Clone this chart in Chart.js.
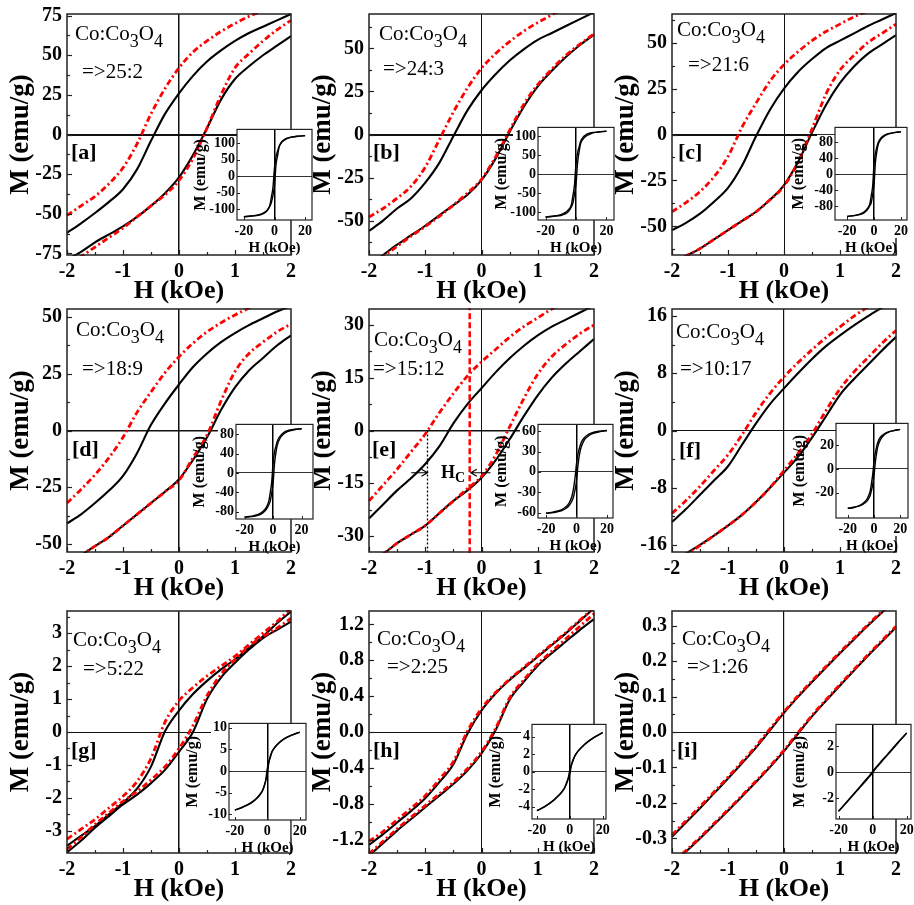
<!DOCTYPE html>
<html>
<head>
<meta charset="utf-8">
<title>Co:Co3O4 hysteresis loops</title>
<script src="https://cdn.jsdelivr.net/npm/chart.js@4.4.1/dist/chart.umd.min.js"></script>
<style>
  html, body { margin: 0; padding: 0; background: #fff; }
  #figure { position: relative; width: 914px; height: 905px; overflow: hidden; background: #fff; }
  #figure canvas { position: absolute; }
</style>
</head>
<body>
<div id="figure"></div>
<script>
// Applied field grids (kOe): low-field window and full sweep
const FIELD = [-2, -1.75, -1.5, -1.25, -1, -0.75, -0.5, -0.25, 0, 0.25, 0.5, 0.75, 1, 1.25, 1.5, 1.75, 2];
const FIELD_WIDE = [-20, -15, -10, -7, -5, -3, -2, -1, 0, 1, 2, 3, 5, 7, 10, 15, 20];
const X_TICKS = [-2, -1, 0, 1, 2];
const X_TICKS_WIDE = [-20, 0, 20];

// [a] 25:2
const a_blackDesc = [-62, -56, -49.5, -42.5, -34.5, -22, -4, 13, 26, 37, 46, 53, 59, 64, 68, 72, 76];
const a_blackAsc  = [-79, -74, -68, -63, -58, -52, -45, -37, -27, -13, 4, 22, 35, 43, 50, 56, 62];
const a_redDesc   = [-51, -45, -39, -31, -21, -6, 13, 29, 42, 52, 59, 65, 70, 74.5, 78, 81.5, 85];
const a_redAsc    = [-82, -77, -71, -65, -59, -52, -45, -38, -29, -15, 4, 25, 42, 51, 59, 66, 72];
const a_yTicks    = [-75, -50, -25, 0, 25, 50, 75];
const a_wideDesc  = [-123, -121, -117, -111, -104, -88, -62, -34, 26, 59, 76, 91, 106, 113, 118, 121, 123];
const a_wideAsc   = [-123, -121, -118, -113, -106, -91, -79, -58, -28, 35, 62, 88, 104, 111, 117, 121, 123];
const a_wideTicks = [-100, -50, 0, 50, 100];

// [b] 24:3
const b_blackDesc = [-56, -50, -43, -37, -28, -16.5, -1, 14, 25.7, 35, 43, 49.5, 55, 59, 63, 67, 71];
const b_blackAsc  = [-76, -70, -64, -58.5, -53, -47, -41, -35, -26.5, -14, 1.5, 16, 28, 37, 45, 52, 58];
const b_redDesc   = [-48, -43, -37, -30, -19, -3, 13, 27, 38.5, 47, 54, 60, 65, 69.5, 74, 77.5, 81];
const b_redAsc    = [-77, -71, -65, -59, -53.5, -47.5, -41, -34, -26, -13, 2.5, 17.5, 29, 38, 46, 52.5, 58.5];
const b_yTicks    = [-50, -25, 0, 25, 50];
const b_wideDesc  = [-113, -111, -107, -101, -94, -80, -56, -28, 26, 55, 71, 86, 99, 105, 109, 111, 113];
const b_wideAsc   = [-113, -111, -109, -105, -99, -86, -76, -53, -26.5, 28, 58, 80, 94, 101, 107, 111, 113];
const b_wideTicks = [-100, -50, 0, 50, 100];

// [c] 21:6
const c_blackDesc = [-52, -48, -43, -36.5, -29, -17, -1, 13.5, 25, 34, 41, 47, 51, 55, 59, 62.5, 66];
const c_blackAsc  = [-70, -66, -62, -57, -52, -47, -42, -35.5, -27.5, -15, 1, 16, 28, 37, 44, 49, 54];
const c_redDesc   = [-42, -37, -31, -23, -12, 4, 17, 29, 38, 45, 51, 56, 60, 64, 67, 70, 73];
const c_redAsc    = [-70, -66, -62, -57, -52, -47, -42, -35.5, -28, -15, 3, 22, 35, 43, 50, 55, 60];
const c_yTicks    = [-50, -25, 0, 25, 50];
const c_wideDesc  = [-105, -103, -99, -93, -86, -72, -52, -29, 25, 51, 66, 78, 89, 95, 100, 103, 105];
const c_wideAsc   = [-105, -103, -100, -95, -89, -78, -70, -51, -27.5, 28, 54, 72, 86, 93, 99, 103, 105];
const c_wideTicks = [-80, -40, 0, 40, 80];

// [d] 18:9
const d_blackDesc = [-41, -37, -32, -26.5, -20, -10, 2.5, 12, 20.3, 28, 34, 39, 43, 46.5, 49.5, 52.5, 55];
const d_blackAsc  = [-58, -55, -51, -47, -42, -37, -32, -27, -21.5, -13, -3, 9, 19, 26.5, 32, 37.5, 42];
const d_redDesc   = [-32, -26, -19.5, -12, -3, 8, 17, 25.5, 32.5, 38.5, 43.5, 47.5, 51, 54, 57, 59.5, 62];
const d_redAsc    = [-58, -55, -51, -47, -42, -37, -32, -27, -22, -12, -2, 13, 26, 34, 39, 43.5, 47];
const d_yTicks    = [-50, -25, 0, 25, 50];
const d_wideDesc  = [-91, -89, -85, -79, -72, -58, -41, -20, 20.3, 43, 55, 66, 76, 82, 87, 90, 91];
const d_wideAsc   = [-91, -90, -87, -82, -76, -66, -58, -42, -21.5, 19, 42, 58, 72, 79, 85, 89, 91];
const d_wideTicks = [-80, -40, 0, 40, 80];

// [e] 15:12
const e_blackDesc = [-25, -21, -17, -13.5, -9.5, -4.5, 2, 7.5, 12, 16.5, 20.5, 24, 27, 29.5, 31.5, 33.5, 35.5];
const e_blackAsc  = [-37, -35, -32, -29.5, -27, -23.5, -20, -17, -13.4, -8.5, -2.5, 4, 10, 15, 19, 22.5, 26];
const e_redDesc   = [-20, -15.5, -11, -6, -1, 5, 10.5, 15.5, 19.5, 23, 26.5, 29.5, 32, 34.5, 36.5, 38.5, 40];
const e_redAsc    = [-37, -35, -32, -29.5, -27, -23.5, -20, -16.5, -13, -7, 1, 9, 16, 21, 24.5, 27.5, 30];
const e_yTicks    = [-30, -15, 0, 15, 30];
const e_wideDesc  = [-61, -59, -56, -51.5, -46.5, -36, -25, -9.5, 12, 27, 35.5, 43, 50, 54, 57.5, 60, 61];
const e_wideAsc   = [-61, -60, -57.5, -54, -50, -43, -37, -27, -13.4, 10, 26, 36, 46.5, 51.5, 56, 59, 61];
const e_wideTicks = [-60, -30, 0, 30, 60];
// coercive-field markers drawn in [e]
const e_hcField   = [-0.96, -0.21];
const e_hcArrows  = [[-1.25, -0.96], [0.16, -0.19]];
const e_hcLevel   = -12;

// [f] 10:17
const f_blackDesc = [-12.8, -11, -9, -7, -5, -2, 1, 3.7, 5.9, 8, 10, 11.8, 13.3, 14.7, 16, 17.2, 18.4];
const f_blackAsc  = [-18.4, -17.2, -16, -14.7, -13.3, -11.8, -10, -8, -5.9, -3.7, -1, 2, 5, 7.2, 9.2, 11.2, 13.1];
const f_redDesc   = [-11.6, -9.8, -7.8, -5.6, -3.4, -0.6, 2.5, 5.2, 7.5, 9.5, 11.3, 13, 14.5, 16, 17.3, 18.5, 19.6];
const f_redAsc    = [-18.6, -17.4, -16.1, -14.7, -13.3, -11.8, -10, -8, -5.6, -3.2, -0.5, 2.8, 5.8, 8.2, 10.2, 12.2, 14];
const f_yTicks    = [-16, -8, 0, 8, 16];
const f_wideDesc  = [-33, -32, -30, -27.5, -24.5, -19, -12.8, -5, 5.9, 13.3, 18.4, 22.5, 26.5, 28.5, 30.5, 32, 33];
const f_wideAsc   = [-33, -32, -30.5, -28.5, -26.5, -22.5, -18.4, -13.3, -5.9, 5, 13.1, 19, 24.5, 27.5, 30, 32, 33];
const f_wideTicks = [-20, 0, 20];

// [g] 5:22
const g_blackDesc = [-3.45, -3.15, -2.85, -2.5, -2.15, -1.72, -1.05, 0.02, 0.65, 1.15, 1.55, 1.9, 2.2, 2.55, 2.9, 3.3, 3.65];
const g_blackAsc  = [-3.65, -3.3, -2.9, -2.55, -2.2, -1.9, -1.55, -1.15, -0.6, 0, 1.0, 1.65, 2.1, 2.5, 2.85, 3.1, 3.35];
const g_redDesc   = [-3.25, -2.95, -2.65, -2.3, -1.95, -1.5, -0.8, 0.3, 0.95, 1.35, 1.7, 2.0, 2.3, 2.65, 3.0, 3.35, 3.75];
const g_redAsc    = [-3.55, -3.2, -2.8, -2.45, -2.1, -1.8, -1.45, -1.05, -0.5, 0.2, 1.1, 1.75, 2.2, 2.6, 2.9, 3.15, 3.45];
const g_yTicks    = [-3, -2, -1, 0, 1, 2, 3];
const g_wideDesc  = [-9, -8.3, -7.3, -6.4, -5.6, -4.5, -3.45, -2.15, 0.65, 2.2, 3.65, 4.6, 5.7, 6.5, 7.4, 8.3, 9];
const g_wideAsc   = [-9, -8.3, -7.4, -6.5, -5.7, -4.6, -3.65, -2.2, -0.6, 2.1, 3.35, 4.5, 5.6, 6.4, 7.3, 8.3, 9];
const g_wideTicks = [-10, -5, 0, 5, 10];

// [h] 2:25
const h_blackDesc = [-1.26, -1.14, -1.01, -0.88, -0.74, -0.56, -0.36, -0.02, 0.24, 0.43, 0.58, 0.71, 0.84, 0.97, 1.1, 1.24, 1.38];
const h_blackAsc  = [-1.38, -1.24, -1.1, -0.97, -0.84, -0.71, -0.58, -0.43, -0.24, 0.02, 0.36, 0.56, 0.74, 0.88, 1.01, 1.14, 1.26];
const h_redDesc   = [-1.22, -1.11, -0.98, -0.85, -0.71, -0.53, -0.33, 0.01, 0.26, 0.44, 0.59, 0.72, 0.85, 0.98, 1.11, 1.25, 1.39];
const h_redAsc    = [-1.36, -1.22, -1.08, -0.95, -0.82, -0.69, -0.56, -0.41, -0.22, 0.04, 0.38, 0.58, 0.76, 0.9, 1.04, 1.18, 1.32];
const h_yTicks    = [-1.2, -0.8, -0.4, 0, 0.4, 0.8, 1.2];
const h_wideDesc  = [-4.45, -3.95, -3.25, -2.75, -2.35, -1.78, -1.26, -0.74, 0.24, 0.84, 1.38, 1.78, 2.35, 2.75, 3.3, 3.95, 4.45];
const h_wideAsc   = [-4.45, -3.95, -3.3, -2.75, -2.35, -1.78, -1.38, -0.84, -0.24, 0.74, 1.26, 1.78, 2.35, 2.75, 3.25, 3.95, 4.45];
const h_wideTicks = [-4, -2, 0, 2, 4];

// [i] 1:26
const i_blackDesc = [-0.295, -0.255, -0.215, -0.173, -0.131, -0.088, -0.044, 0.005, 0.054, 0.099, 0.141, 0.182, 0.222, 0.261, 0.3, 0.337, 0.373];
const i_blackAsc  = [-0.373, -0.337, -0.3, -0.261, -0.222, -0.182, -0.141, -0.099, -0.054, -0.005, 0.044, 0.088, 0.131, 0.173, 0.215, 0.255, 0.295];
const i_redDesc   = [-0.29, -0.25, -0.21, -0.169, -0.127, -0.084, -0.04, 0.009, 0.057, 0.102, 0.144, 0.185, 0.225, 0.264, 0.303, 0.34, 0.376];
const i_redAsc    = [-0.37, -0.334, -0.297, -0.258, -0.219, -0.179, -0.138, -0.096, -0.051, -0.002, 0.047, 0.091, 0.134, 0.176, 0.218, 0.258, 0.298];
const i_yTicks    = [-0.3, -0.2, -0.1, 0, 0.1, 0.2, 0.3];
const i_wideDesc  = [-3.0, -2.25, -1.5, -1.05, -0.75, -0.44, -0.295, -0.131, 0.054, 0.222, 0.373, 0.52, 0.82, 1.12, 1.55, 2.3, 3.0];
const i_wideAsc   = [-3.0, -2.3, -1.55, -1.12, -0.82, -0.52, -0.373, -0.222, -0.054, 0.131, 0.295, 0.44, 0.75, 1.05, 1.5, 2.25, 3.0];
const i_wideTicks = [-2, 0, 2];

const PANELS = [
  { key: 'a', ratio: '=>25:2',  yMax: 76,   dec: 0, yTicks: a_yTicks, blackDesc: a_blackDesc, blackAsc: a_blackAsc, redDesc: a_redDesc, redAsc: a_redAsc, wideDesc: a_wideDesc, wideAsc: a_wideAsc, wideTicks: a_wideTicks, wideX: [-24.5, 24.5], wideY: [-133, 142] },
  { key: 'b', ratio: '=>24:3',  yMax: 70,   dec: 0, yTicks: b_yTicks, blackDesc: b_blackDesc, blackAsc: b_blackAsc, redDesc: b_redDesc, redAsc: b_redAsc, wideDesc: b_wideDesc, wideAsc: b_wideAsc, wideTicks: b_wideTicks, wideX: [-25, 25], wideY: [-121, 123] },
  { key: 'c', ratio: '=>21:6',  yMax: 65.5, dec: 0, yTicks: c_yTicks, blackDesc: c_blackDesc, blackAsc: c_blackAsc, redDesc: c_redDesc, redAsc: c_redAsc, wideDesc: c_wideDesc, wideAsc: c_wideAsc, wideTicks: c_wideTicks, wideX: [-29, 24.5], wideY: [-114, 116] },
  { key: 'd', ratio: '=>18:9',  yMax: 53.6, dec: 0, yTicks: d_yTicks, blackDesc: d_blackDesc, blackAsc: d_blackAsc, redDesc: d_redDesc, redAsc: d_redAsc, wideDesc: d_wideDesc, wideAsc: d_wideAsc, wideTicks: d_wideTicks, wideX: [-26, 28], wideY: [-95, 100] },
  { key: 'e', ratio: '=>15:12', yMax: 34.5, dec: 0, yTicks: e_yTicks, blackDesc: e_blackDesc, blackAsc: e_blackAsc, redDesc: e_redDesc, redAsc: e_redAsc, wideDesc: e_wideDesc, wideAsc: e_wideAsc, wideTicks: e_wideTicks, wideX: [-25.3, 24], wideY: [-68, 70], hc: true },
  { key: 'f', ratio: '=>10:17', yMax: 17,   dec: 0, yTicks: f_yTicks, blackDesc: f_blackDesc, blackAsc: f_blackAsc, redDesc: f_redDesc, redAsc: f_redAsc, wideDesc: f_wideDesc, wideAsc: f_wideAsc, wideTicks: f_wideTicks, wideX: [-29, 26], wideY: [-41, 38] },
  { key: 'g', ratio: '=>5:22',  yMax: 3.67, dec: 0, yTicks: g_yTicks, blackDesc: g_blackDesc, blackAsc: g_blackAsc, redDesc: g_redDesc, redAsc: g_redAsc, wideDesc: g_wideDesc, wideAsc: g_wideAsc, wideTicks: g_wideTicks, wideX: [-23.6, 23.8], wideY: [-11.3, 11] },
  { key: 'h', ratio: '=>2:25',  yMax: 1.35, dec: 1, yTicks: h_yTicks, blackDesc: h_blackDesc, blackAsc: h_blackAsc, redDesc: h_redDesc, redAsc: h_redAsc, wideDesc: h_wideDesc, wideAsc: h_wideAsc, wideTicks: h_wideTicks, wideX: [-23, 22], wideY: [-5.4, 5.4] },
  { key: 'i', ratio: '=>1:26',  yMax: 0.341, dec: 1, yTicks: i_yTicks, blackDesc: i_blackDesc, blackAsc: i_blackAsc, redDesc: i_redDesc, redAsc: i_redAsc, wideDesc: i_wideDesc, wideAsc: i_wideAsc, wideTicks: i_wideTicks, wideX: [-21.5, 22.5], wideY: [-3.6, 3.65] }
];

// Page layout (px): plot frames, inset frames, in-panel text offsets, zero-line weights
const FRAMES = {
  a: { L: 67,  R: 293, T: 11,  B: 255 }, b: { L: 369, R: 596, T: 11,  B: 255 }, c: { L: 672, R: 898, T: 11,  B: 255 },
  d: { L: 67,  R: 293, T: 306, B: 552 }, e: { L: 369, R: 596, T: 306, B: 552 }, f: { L: 672, R: 898, T: 306, B: 552 },
  g: { L: 67,  R: 293, T: 608, B: 853 }, h: { L: 369, R: 596, T: 608, B: 853 }, i: { L: 672, R: 898, T: 608, B: 853 }
};
const INSET_FRAMES = {
  a: { l: 237, r: 312, t: 128, b: 220 }, b: { l: 538, r: 614, t: 126, b: 220 }, c: { l: 835, r: 907, t: 126, b: 220 },
  d: { l: 236, r: 313, t: 423, b: 519 }, e: { l: 538, r: 613, t: 423, b: 518 }, f: { l: 836, r: 908, t: 422, b: 518 },
  g: { l: 229, r: 306, t: 722, b: 820 }, h: { l: 532, r: 606, t: 723, b: 819 }, i: { l: 836, r: 911, t: 723, b: 819 }
};
const TEXT_POS = {
  a: { co: [8, 26],  ratio: [15, 64], tag: [4, 24] },
  b: { co: [10, 26], ratio: [14, 61], tag: [4, 24] },
  c: { co: [5, 22],  ratio: [16, 57], tag: [6, 24] },
  d: { co: [9, 27],  ratio: [15, 66], tag: [5, 25] },
  e: { co: [5, 37],  ratio: [4, 66],  tag: [3, 25] },
  f: { co: [4, 29],  ratio: [8, 66],  tag: [7, 26] },
  g: { co: [6, 35],  ratio: [16, 64], tag: [4, 25] },
  h: { co: [8, 34],  ratio: [18, 62], tag: [4, 25] },
  i: { co: [10, 34], ratio: [15, 62], tag: [5, 25] }
};
const ZERO_STYLE = {
  a: { h: 2, v: 1.5 }, b: { h: 2, v: 1 }, c: { h: 2, v: 1 },
  d: { h: 1.6, v: 1.5 }, e: { h: 1.6, v: 1 }, f: { h: 1, v: 1.2 },
  g: { h: 1, v: 1.5 }, h: { h: 1, v: 1 }, i: { h: 1, v: 1.2 }
};

const SERIF = "'Liberation Serif', 'Times New Roman', Times, serif";
const RED = '#f00';
const RED_DASH = [6, 3, 2, 3];
const COMPOSITION = [['Co:Co', false], ['3', true], ['O', false], ['4', true]];
const INSET_TICK_FONT = { size: 14, weight: 'bold' };

Chart.defaults.font.family = SERIF;
Chart.defaults.color = '#000';

const fig = document.getElementById('figure');

function addCanvas(left, top, w, h) {
  const c = document.createElement('canvas');
  c.width = w; c.height = h;
  c.style.left = left + 'px'; c.style.top = top + 'px';
  c.style.width = w + 'px'; c.style.height = h + 'px';
  fig.appendChild(c);
  return c;
}

function points(xs, ys) { return xs.map((x, k) => ({ x: x, y: ys[k] })); }

function branch(xs, ys, color, width, dash) {
  return {
    data: points(xs, ys), showLine: true, borderColor: color, backgroundColor: color,
    borderWidth: width, borderDash: dash, pointRadius: 0, pointHoverRadius: 0, fill: false,
    tension: 0.4, cubicInterpolationMode: 'monotone', clip: 1
  };
}

function straight(pts, color, width, dash) {
  return { data: pts, showLine: true, borderColor: color, borderWidth: width, borderDash: dash, pointRadius: 0, fill: false, tension: 0, clip: 1 };
}

// white ground under an inset: its plot box plus a tight patch behind every tick label
const backdrop = {
  id: 'backdrop',
  beforeDraw(chart, args, o) {
    const { ctx, chartArea: ca, scales: { x, y } } = chart;
    const limit = o.limit;
    const rect = (x0, y0, w, h) => {
      const y1 = Math.min(y0 + h, limit);
      if (y1 > y0) ctx.fillRect(x0, y0, w, y1 - y0);
    };
    ctx.save();
    ctx.fillStyle = '#fff';
    rect(ca.left, ca.top, ca.right - ca.left + 1, ca.bottom - ca.top);
    ctx.font = 'bold ' + INSET_TICK_FONT.size + 'px ' + SERIF;
    y.ticks.forEach(t => {
      const w = ctx.measureText(String(t.label)).width;
      const py = y.getPixelForValue(t.value);
      rect(ca.left - w - 4, py - 7, w + 4, 14);
    });
    x.ticks.forEach(t => {
      const w = ctx.measureText(String(t.label)).width;
      const px = x.getPixelForValue(t.value);
      rect(px - w / 2 - 1, ca.bottom, w + 2, 18);
    });
    ctx.restore();
  }
};

// closed frame around the plotting area
const frameBox = {
  id: 'frameBox',
  afterDatasetsDraw(chart, args, o) {
    const { ctx, chartArea: ca } = chart;
    ctx.save();
    ctx.strokeStyle = o.color || '#222';
    ctx.lineWidth = o.width || 1.5;
    ctx.strokeRect(ca.left, ca.top, ca.right - ca.left, ca.bottom - ca.top);
    ctx.restore();
  }
};

// inward major/minor tick marks on the left and bottom axes
const tickMarks = {
  id: 'tickMarks',
  afterDatasetsDraw(chart, args, o) {
    const { ctx, chartArea: ca, scales } = chart;
    ctx.save();
    ctx.strokeStyle = '#222';
    ctx.lineWidth = o.width || 1;
    const mark = (scale, horizontal) => {
      const vals = scale.ticks.map(t => t.value);
      const list = vals.map(v => [v, o.major]);
      if (o.minor && vals.length > 1) {
        const step = vals[1] - vals[0];
        for (let v = vals[0] - step / 2; v <= scale.max + 1e-9; v += step) {
          if (v >= scale.min - 1e-9) list.push([v, o.minor]);
        }
      }
      list.forEach(([v, len]) => {
        const p = Math.round(scale.getPixelForValue(v)) + 0.5;
        ctx.beginPath();
        if (horizontal) { ctx.moveTo(p, ca.bottom); ctx.lineTo(p, ca.bottom - len); }
        else { ctx.moveTo(ca.left, p); ctx.lineTo(ca.left + len, p); }
        ctx.stroke();
      });
    };
    mark(scales.x, true);
    mark(scales.y, false);
    ctx.restore();
  }
};

// composition, Co:Co3O4 ratio and panel letter
const panelText = {
  id: 'panelText',
  afterDraw(chart, args, o) {
    const { ctx, chartArea: ca, scales } = chart;
    ctx.save();
    ctx.fillStyle = '#000';
    ctx.textAlign = 'left';
    ctx.textBaseline = 'alphabetic';
    let x = ca.left + o.pos.co[0];
    const base = ca.top + o.pos.co[1];
    COMPOSITION.forEach(([txt, sub]) => {
      ctx.font = (sub ? '18px ' : '21px ') + SERIF;
      ctx.fillText(txt, x, base + (sub ? 7 : 0));
      x += ctx.measureText(txt).width;
    });
    ctx.font = '21px ' + SERIF;
    ctx.fillText(o.ratio, ca.left + o.pos.ratio[0], ca.top + o.pos.ratio[1]);
    ctx.font = 'bold 22px ' + SERIF;
    ctx.fillText('[' + o.letter + ']', ca.left + o.pos.tag[0], scales.y.getPixelForValue(0) + o.pos.tag[1]);
    ctx.restore();
  }
};

// H_C arrows and label in panel [e]
const hcMarks = {
  id: 'hcMarks',
  afterDatasetsDraw(chart, args, o) {
    if (!o || !o.show) return;
    const { ctx, scales: { x, y } } = chart;
    const py = y.getPixelForValue(e_hcLevel);
    ctx.save();
    ctx.strokeStyle = '#000';
    ctx.lineWidth = 1.2;
    e_hcArrows.forEach(([from, to]) => {
      const x1 = x.getPixelForValue(from), x2 = x.getPixelForValue(to);
      const dir = Math.sign(x2 - x1);
      ctx.beginPath();
      ctx.moveTo(x1, py); ctx.lineTo(x2, py);
      ctx.moveTo(x2 - dir * 6, py - 3.5); ctx.lineTo(x2, py); ctx.lineTo(x2 - dir * 6, py + 3.5);
      ctx.stroke();
    });
    ctx.fillStyle = '#000';
    ctx.textBaseline = 'alphabetic';
    const lx = x.getPixelForValue(-0.72), ly = y.getPixelForValue(-13.6);
    ctx.font = 'bold 18px ' + SERIF;
    ctx.fillText('H', lx, ly);
    const w = ctx.measureText('H').width;
    ctx.font = 'bold 14px ' + SERIF;
    ctx.fillText('C', lx + w, ly + 4);
    ctx.restore();
  }
};

function fmt(dec) { return v => Number(v).toFixed(dec); }

function zeroLine(width, color) {
  return {
    drawTicks: false,
    color: c => (c.tick && Math.abs(c.tick.value) < 1e-12) ? color : 'rgba(0,0,0,0)',
    lineWidth: c => (c.tick && Math.abs(c.tick.value) < 1e-12) ? width : 0
  };
}

function drawPanel(p) {
  const f = FRAMES[p.key];
  const padL = 67, padT = 14, padR = 8, axisH = 54;
  const c = addCanvas(f.L - padL, f.T - padT, f.R - f.L + padL + padR, f.B - f.T + padT + axisH);
  const z = ZERO_STYLE[p.key];
  const datasets = [];
  if (p.hc) {
    datasets.push(straight([{ x: e_hcField[1], y: -40 }, { x: e_hcField[1], y: 40 }], RED, 2.5, [6, 3]));
    datasets.push(straight([{ x: e_hcField[0], y: 0 }, { x: e_hcField[0], y: -40 }], '#000', 1.3, [2, 2]));
  }
  datasets.push(
    branch(FIELD, p.redDesc, RED, 2.8, RED_DASH),
    branch(FIELD, p.redAsc, RED, 2.8, RED_DASH),
    branch(FIELD, p.blackDesc, '#000', 2.1, []),
    branch(FIELD, p.blackAsc, '#000', 2.1, [])
  );
  new Chart(c, {
    type: 'scatter',
    data: { datasets },
    options: {
      responsive: false, animation: false, devicePixelRatio: 1, events: [],
      layout: { padding: { left: 0, top: padT, right: padR, bottom: 0 } },
      plugins: {
        legend: { display: false }, tooltip: { enabled: false },
        frameBox: { width: 1.5, color: '#222' },
        tickMarks: { major: 5, minor: 3, width: 1.2 },
        panelText: { pos: TEXT_POS[p.key], ratio: p.ratio, letter: p.key },
        hcMarks: { show: !!p.hc }
      },
      scales: {
        x: {
          type: 'linear', min: -2, max: 2,
          afterBuildTicks: s => { s.ticks = X_TICKS.map(v => ({ value: v })); },
          afterFit: s => { s.height = axisH; },
          grid: zeroLine(z.v, '#111'),
          border: { display: false },
          ticks: { autoSkip: false, maxRotation: 0, minRotation: 0, padding: 5, color: '#000', font: { size: 20, weight: 'bold' }, callback: fmt(0) },
          title: { display: true, text: 'H (kOe)', color: '#000', font: { size: 26, weight: 'bold' }, padding: { top: 0, bottom: 2.4 } }
        },
        y: {
          type: 'linear', min: -p.yMax, max: p.yMax,
          afterBuildTicks: s => { s.ticks = p.yTicks.map(v => ({ value: v })); },
          afterFit: s => { s.width = padL; },
          grid: zeroLine(z.h, '#111'),
          border: { display: false },
          ticks: { autoSkip: false, padding: 5, color: '#000', font: { size: 20, weight: 'bold' }, callback: fmt(p.dec) },
          title: { display: true, text: 'M (emu/g)', color: '#000', font: { size: 27, weight: 'bold' }, padding: { top: 4.8, bottom: 0 } }
        }
      }
    },
    plugins: [frameBox, tickMarks, panelText, hcMarks]
  });
}

function drawInset(p) {
  const f = INSET_FRAMES[p.key], host = FRAMES[p.key];
  const padL = 44, padT = 9, padR = 8, axisH = 38;
  const left = f.l - padL, top = f.t - padT;
  const c = addCanvas(left, top, f.r - f.l + padL + padR, f.b - f.t + padT + axisH);
  new Chart(c, {
    type: 'scatter',
    data: {
      datasets: [
        branch(FIELD_WIDE, p.wideDesc, '#000', 1.4, []),
        branch(FIELD_WIDE, p.wideAsc, '#000', 1.4, [])
      ]
    },
    options: {
      responsive: false, animation: false, devicePixelRatio: 1, events: [],
      layout: { padding: { left: 0, top: padT, right: padR, bottom: 0 } },
      plugins: {
        legend: { display: false }, tooltip: { enabled: false },
        backdrop: { limit: host.B - 1 - top },
        frameBox: { width: 1.2, color: '#222' },
        tickMarks: { major: 3, minor: 0, width: 1 }
      },
      scales: {
        x: {
          type: 'linear', min: p.wideX[0], max: p.wideX[1],
          afterBuildTicks: s => { s.ticks = X_TICKS_WIDE.map(v => ({ value: v })); },
          afterFit: s => { s.height = axisH; },
          grid: zeroLine(1.5, '#000'),
          border: { display: false },
          ticks: { autoSkip: false, maxRotation: 0, minRotation: 0, padding: 3, color: '#000', font: INSET_TICK_FONT, callback: fmt(0) },
          title: { display: true, text: 'H (kOe)', color: '#000', font: { size: 15, weight: 'bold' }, padding: { top: 0, bottom: 1 } }
        },
        y: {
          type: 'linear', min: p.wideY[0], max: p.wideY[1],
          afterBuildTicks: s => { s.ticks = p.wideTicks.map(v => ({ value: v })); },
          afterFit: s => { s.width = padL; },
          grid: zeroLine(1, '#333'),
          border: { display: false },
          ticks: { autoSkip: false, padding: 2, color: '#000', font: INSET_TICK_FONT, callback: fmt(0) },
          title: { display: true, text: 'M (emu/g)', color: '#000', font: { size: 16, weight: 'bold' }, padding: { top: -1.6, bottom: 0 } }
        }
      }
    },
    plugins: [backdrop, frameBox, tickMarks]
  });
}

PANELS.forEach(drawPanel);
PANELS.forEach(drawInset);
</script>
</body>
</html>
